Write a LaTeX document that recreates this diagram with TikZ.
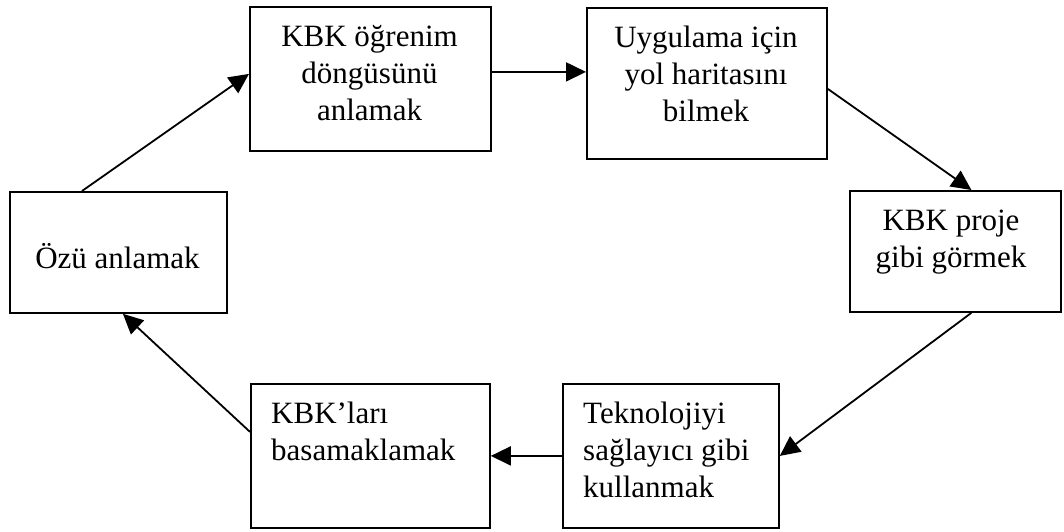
\documentclass[tikz,border=0pt]{standalone}
\usepackage{fontspec}
\setmainfont{Liberation Serif}
\usetikzlibrary{arrows.meta}
% invisible strut fixing the top of a text block above its first baseline
\newcommand{\topstrut}{\rule{0pt}{30pt}}
\begin{document}
\begin{tikzpicture}[x=1pt,y=-1pt,
  box/.style={draw,line width=1.8pt,rectangle,inner sep=0pt,anchor=north west},
  txt/.style={inner sep=0pt,font=\fontsize{31}{37}\selectfont},
  ctxt/.style={txt,align=center,anchor=north},
  ltxt/.style={txt,align=left,anchor=north west},
  link/.style={line width=1.8pt,-{Triangle[length=20pt,width=19pt]}}]
\useasboundingbox (0,0) rectangle (1064,531);

% boxes
\node[box,minimum width=217pt,minimum height=121pt] (ozu)   at (9,191)   {};
\node[box,minimum width=241pt,minimum height=144pt] (kbk)   at (249,6)   {};
\node[box,minimum width=240pt,minimum height=151pt] (yol)   at (586,7)   {};
\node[box,minimum width=211pt,minimum height=121pt] (proje) at (849,190) {};
\node[box,minimum width=216pt,minimum height=144pt] (tekno) at (562,383) {};
\node[box,minimum width=239pt,minimum height=144pt] (bas)   at (250,383) {};

% texts
\node[txt,anchor=base] (tozu) at (117.5,268) {Özü anlamak};
\node[ctxt] (tkbk) at (369.5,16) {\topstrut KBK öğrenim\\döngüsünü\\anlamak};
\node[ctxt] (tyol) at (706,17) {\topstrut Uygulama için\\yol haritasını\\bilmek};
\node[ctxt] (tproje) at (951,200) {\topstrut KBK proje\\gibi görmek};
\node[ltxt] (ttekno) at (583,393) {\topstrut Teknolojiyi\\sağlayıcı gibi\\kullanmak};
\node[ltxt] (tbas) at (271,393) {\topstrut KBK’ları\\basamaklamak};

% cycle of arrows
\draw[link] ([xshift=73pt]ozu.north west) -- ([yshift=5pt]kbk.west);
\draw[link] ([yshift=7pt]kbk.east) -- ([yshift=11.5pt]yol.west);
\draw[link] ([yshift=-5.5pt]yol.east) -- ([xshift=16pt]proje.north);
\draw[link] ([xshift=16pt]proje.south) -- (tekno.east);
\draw[link] (tekno.west) -- (bas.east);
\draw[link] ([yshift=24pt]bas.west) -- ([xshift=4.5pt]ozu.south);
\end{tikzpicture}
\end{document}
